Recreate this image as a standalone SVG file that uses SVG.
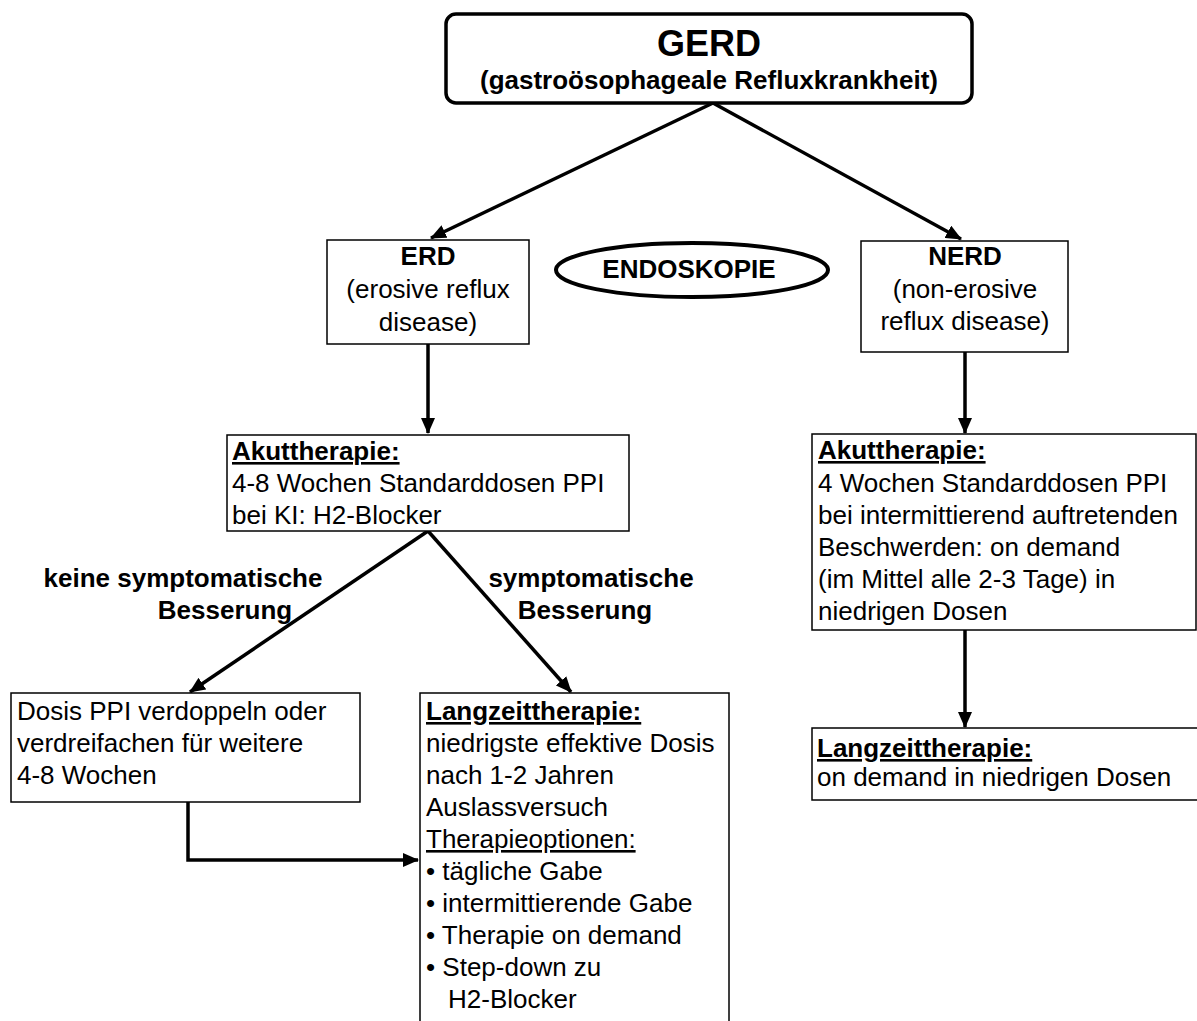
<svg xmlns="http://www.w3.org/2000/svg" width="1197" height="1021" viewBox="0 0 1197 1021">
<style>
text{font-family:"Liberation Sans",Arial,sans-serif;fill:#000;}
.t{font-size:26px;}
.b{font-size:26px;font-weight:bold;}
.u{text-decoration:underline;}
.c{text-anchor:middle;}
.box{fill:#fff;stroke:#000;stroke-width:1.5;}
.con{fill:none;stroke:#000;stroke-width:3.5;}
</style>
<defs>
<marker id="ah" markerUnits="userSpaceOnUse" markerWidth="16" markerHeight="14" refX="15" refY="7" orient="auto">
<path d="M0,0 L16,7 L0,14 z" fill="#000"/>
</marker>
</defs>
<rect width="1197" height="1021" fill="#fff"/>
<g id="connectors">
<line class="con" x1="713" y1="103" x2="431" y2="238" marker-end="url(#ah)"/>
<line class="con" x1="713" y1="103" x2="961" y2="239" marker-end="url(#ah)"/>
<line class="con" x1="428" y1="344" x2="428" y2="433" marker-end="url(#ah)"/>
<line class="con" x1="428" y1="531" x2="190" y2="692" marker-end="url(#ah)"/>
<line class="con" x1="428" y1="531" x2="571" y2="692" marker-end="url(#ah)"/>
<polyline class="con" points="188,802 188,860 418,860" marker-end="url(#ah)"/>
<line class="con" x1="965" y1="352" x2="965" y2="433" marker-end="url(#ah)"/>
<line class="con" x1="965" y1="630" x2="965" y2="727" marker-end="url(#ah)"/>
</g>
<g id="gerd">
<rect x="446" y="14" width="526" height="89" rx="10" ry="10" fill="#fff" stroke="#000" stroke-width="3.5"/>
<text class="c" x="709" y="56" style="font-size:36px;font-weight:bold;">GERD</text>
<text class="c" x="709" y="89" style="font-size:26px;font-weight:bold;">(gastroösophageale Refluxkrankheit)</text>
</g>
<g id="erd">
<rect class="box" x="327" y="240" width="202" height="104"/>
<text class="b c" x="428" y="265">ERD</text>
<text class="t c" x="428" y="298">(erosive reflux</text>
<text class="t c" x="428" y="331">disease)</text>
</g>
<g id="endoskopie">
<ellipse cx="692" cy="270" rx="136" ry="27" fill="#fff" stroke="#000" stroke-width="4"/>
<text class="b c" x="689" y="278">ENDOSKOPIE</text>
</g>
<g id="nerd">
<rect class="box" x="861" y="241" width="207" height="111"/>
<text class="b c" x="965" y="265">NERD</text>
<text class="t c" x="965" y="298">(non-erosive</text>
<text class="t c" x="965" y="330">reflux disease)</text>
</g>
<g id="akut-erd">
<rect class="box" x="227" y="435" width="402" height="96"/>
<text class="b u" x="232" y="460">Akuttherapie:</text>
<text class="t" x="232" y="492">4-8 Wochen Standarddosen PPI</text>
<text class="t" x="232" y="524">bei KI: H2-Blocker</text>
</g>
<g id="label-keine">
<text class="b c" x="183" y="587">keine symptomatische</text>
<text class="b c" x="225" y="619">Besserung</text>
</g>
<g id="label-symp">
<text class="b c" x="591" y="587">symptomatische</text>
<text class="b c" x="585" y="619">Besserung</text>
</g>
<g id="dosis">
<rect class="box" x="11" y="693" width="349" height="109"/>
<text class="t" x="17" y="720">Dosis PPI verdoppeln oder</text>
<text class="t" x="17" y="752">verdreifachen für weitere</text>
<text class="t" x="17" y="784">4-8 Wochen</text>
</g>
<g id="langzeit-erd">
<rect class="box" x="420" y="693" width="309" height="340"/>
<text class="b u" x="426" y="720">Langzeittherapie:</text>
<text class="t" x="426" y="752">niedrigste effektive Dosis</text>
<text class="t" x="426" y="784">nach 1-2 Jahren</text>
<text class="t" x="426" y="816">Auslassversuch</text>
<text class="t u" x="426" y="848">Therapieoptionen:</text>
<text class="t" x="426" y="880">• tägliche Gabe</text>
<text class="t" x="426" y="912">• intermittierende Gabe</text>
<text class="t" x="426" y="944">• Therapie on demand</text>
<text class="t" x="426" y="976">• Step-down zu</text>
<text class="t" x="448" y="1008">H2-Blocker</text>
</g>
<g id="akut-nerd">
<rect class="box" x="812" y="434" width="384" height="196"/>
<text class="b u" x="818" y="459">Akuttherapie:</text>
<text class="t" x="818" y="492">4 Wochen Standarddosen PPI</text>
<text class="t" x="818" y="524">bei intermittierend auftretenden</text>
<text class="t" x="818" y="556">Beschwerden: on demand</text>
<text class="t" x="818" y="588">(im Mittel alle 2-3 Tage) in</text>
<text class="t" x="818" y="620">niedrigen Dosen</text>
</g>
<g id="langzeit-nerd">
<rect class="box" x="812" y="728" width="400" height="72"/>
<text class="b u" x="817" y="757">Langzeittherapie:</text>
<text class="t" x="817" y="786">on demand in niedrigen Dosen</text>
</g>
</svg>
